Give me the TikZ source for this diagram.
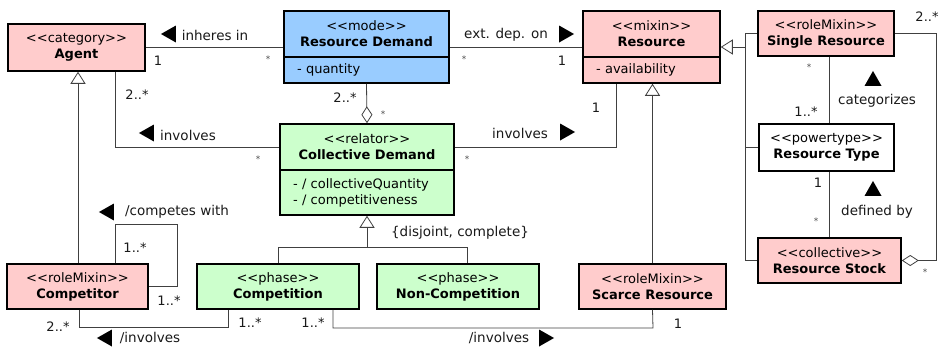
\documentclass[tikz,border=0pt]{standalone}
\usepackage{fontspec}
\setmainfont{DejaVu Sans}
\usetikzlibrary{arrows.meta,shapes.geometric}
\definecolor{pinkc}{HTML}{FFCCCC}
\definecolor{bluec}{HTML}{99CCFF}
\definecolor{greenc}{HTML}{CCFFCC}
\newcommand{\stt}[1]{<{}<#1>{}>}
\begin{document}
\begin{tikzpicture}[x=1pt,y=-1pt,
  every node/.style={inner sep=0pt, font=\fontsize{13}{16}\selectfont},
  cls/.style={draw, line width=1.5pt, align=center, anchor=center},
  attr/.style={draw, line width=1.5pt, align=left, anchor=center, inner xsep=13pt},
  ln/.style={line width=0.8pt, draw=black!75},
  gen/.style={ln, -{Triangle[open, length=12pt, width=15pt, line width=0.8pt]}},
  agg/.style={ln, {Diamond[open, length=17pt, width=11pt, line width=0.8pt]}-},
  lbl/.style={font=\fontsize{13.5}{16}\selectfont, text=black!90},
  mult/.style={font=\fontsize{13}{15}\selectfont, text=black!90},
  star/.style={font=\fontsize{9}{10}\selectfont, text=black!70},
  tri/.style={isosceles triangle, isosceles triangle stretches, fill=black, draw=none,
    minimum width=17pt, minimum height=15pt, inner sep=0pt, outer sep=0pt, anchor=center},
  triL/.style={tri, shape border rotate=180},
  triR/.style={tri, shape border rotate=0},
  triU/.style={tri, shape border rotate=90}
]
\useasboundingbox (0,0) rectangle (944,346);

% classes
\node[cls, fill=pinkc, minimum width=137pt, minimum height=47pt] (agent) at (76.5,47.5) {\stt{category}\\\textbf{Agent}};
\node[cls, fill=bluec, minimum width=165pt, minimum height=46pt] (rdh) at (366.5,34) {\stt{mode}\\\textbf{Resource Demand}};
\node[attr, fill=bluec, text width=139pt, minimum height=26pt] (rda) at (366.5,70) {- quantity};
\node[cls, fill=pinkc, minimum width=137pt, minimum height=46pt] (resh) at (651.5,34) {\stt{mixin}\\\textbf{Resource}};
\node[attr, fill=pinkc, text width=111pt, minimum height=26pt] (resa) at (651.5,70) {- availability};
\node[cls, fill=pinkc, minimum width=136pt, minimum height=45pt] (sr) at (826,33.5) {\stt{roleMixin}\\\textbf{Single Resource}};
\node[cls, fill=white, minimum width=135pt, minimum height=47pt] (rt) at (826.5,147.5) {\stt{powertype}\\\textbf{Resource Type}};
\node[cls, fill=greenc, minimum width=174pt, minimum height=46pt] (cdh) at (367,147) {\stt{relator}\\\textbf{Collective Demand}};
\node[attr, fill=greenc, text width=148pt, minimum height=45pt] (cda) at (367,192.5) {- / collectiveQuantity\\- / competitiveness};
\node[cls, fill=greenc, minimum width=162pt, minimum height=45pt] (compt) at (278,286.5) {\stt{phase}\\\textbf{Competition}};
\node[cls, fill=greenc, minimum width=162pt, minimum height=45pt] (nonc) at (458,286.5) {\stt{phase}\\\textbf{Non-Competition}};
\node[cls, fill=pinkc, minimum width=141pt, minimum height=45pt] (comp) at (77.5,286.5) {\stt{roleMixin}\\\textbf{Competitor}};
\node[cls, fill=pinkc, minimum width=147pt, minimum height=45pt] (scarce) at (652.5,286.5) {\stt{roleMixin}\\\textbf{Scarce Resource}};
\node[cls, fill=pinkc, minimum width=143pt, minimum height=45pt] (rstock) at (829.5,260.5) {\stt{collective}\\\textbf{Resource Stock}};

% connectors
\draw[ln] (agent.east) -- (agent.east -| rdh.west);
\draw[ln] (rdh.east |- agent.east) -- (resh.west |- agent.east);
\draw[ln] (agent.south -| 115,0) |- (cdh.west);
\draw[agg] (cdh.north) -- (rda.south);
\draw[ln] (cdh.east) -| (resa.south -| 616,0);
\draw[gen] (comp.north -| 78,0) -- (agent.south -| 78,0);
\draw[gen] (scarce.north) -- (resa.south -| scarce.north);
\coordinate (j) at (745,47);
\draw[gen] (j) -- (j -| resh.east);
\draw[ln] (rstock.west) -| (sr.west -| j) -- (sr.west);
\draw[ln] (rt.west) -- (rt.west -| j);
\draw[ln] (sr.south -| 829,0) -- (rt.north -| 829,0);
\draw[ln] (rt.south -| 829,0) -- (rstock.north -| 829,0);
\draw[agg] (rstock.east) -| (sr.east -| 936,0) -- (sr.east);
\draw[ln] (comp.north -| 115,0) |- (177,224) |- (comp.east);
\draw[gen] (cda.south |- 0,247) -- (cda.south);
\draw[ln] (compt.north) |- (467,247) -- (nonc.north -| 467,0);
\draw[ln] (comp.south -| 79,0) |- (228,327) -- (compt.south -| 228,0);
\draw[ln] (compt.south -| 333,0) |- (653,328) -- (scarce.south);

% labels
\node[triL] (t1) at (171,34) {};
\node[lbl] (l1) at (215,35) {inheres in};
\node[lbl] (l2) at (506,35) {ext. dep. on};
\node[triR] (t2) at (564,34) {};
\node[mult] (m1) at (158,61) {1};
\node[star] (m2) at (268,59) {*};
\node[star] (m3) at (464,59) {*};
\node[mult] (m4) at (562,61) {1};
\node[mult] (m5) at (137,95) {2..*};
\node[triL] (t3) at (149,133) {};
\node[lbl] (l3) at (188,135) {involves};
\node[star] (m6) at (258,159) {*};
\node[mult] (m7) at (345,98) {2..*};
\node[star] (m8) at (383,114) {*};
\node[lbl] (l4) at (520,133) {involves};
\node[triR] (t4) at (565,132) {};
\node[star] (m9) at (467,159) {*};
\node[mult] (m10) at (596,108) {1};
\node[star] (m11) at (809,67) {*};
\node[mult] (m12) at (806,112) {1..*};
\node[triU] (t5) at (873,81) {};
\node[lbl] (l5) at (877,101) {categorizes};
\node[mult] (m13) at (818,183) {1};
\node[star] (m14) at (816,221) {*};
\node[triU] (t6) at (873,191) {};
\node[lbl] (l6) at (877,212) {defined by};
\node[mult] (m15) at (927,17) {2..*};
\node[star] (m16) at (925,272) {*};
\node[triL] (t7) at (109,212) {};
\node[lbl] (l7) at (177,212) {/competes with};
\node[mult] (m17) at (135,248) {1..*};
\node[mult] (m18) at (169,301) {1..*};
\node[lbl] (l8) at (460,233) {\{disjoint, complete\}};
\node[mult] (m19) at (58,327) {2..*};
\node[mult] (m20) at (250,323) {1..*};
\node[mult] (m21) at (313,323) {1..*};
\node[mult] (m22) at (678,324) {1};
\node[triL] (t8) at (107,338) {};
\node[lbl] (l9) at (150,338) {/involves};
\node[lbl] (l10) at (499,338) {/involves};
\node[triR] (t9) at (544,338) {};
\end{tikzpicture}
\end{document}
